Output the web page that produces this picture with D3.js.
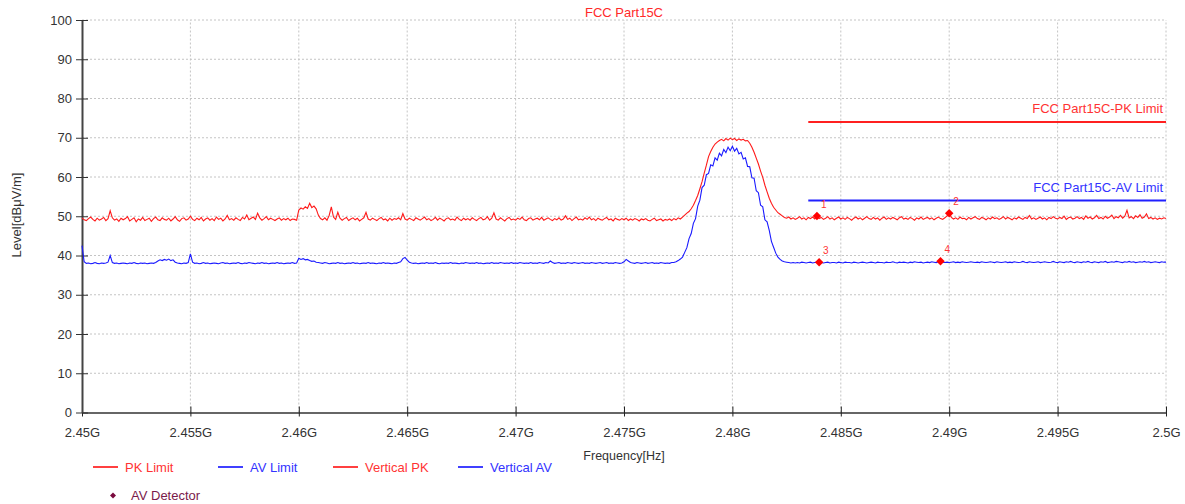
<!DOCTYPE html>
<html>
<head>
<meta charset="utf-8">
<script src="https://cdn.jsdelivr.net/npm/d3@7"></script>
<style>
  body { margin: 0; background: #fff; }
  svg text { font-family: "Liberation Sans", Arial, sans-serif; }
</style>
</head>
<body>
<div class="chart"></div>
<script>
var width = 1185,
    height = 504;

// sweep: 2.45 GHz .. 2.5 GHz, 501 points
const sweepStart = 2.45, sweepStep = 0.0001;

// Vertical PK trace (dBuV/m)
const verticalPK = [
  49.6, 49.1, 48.9, 49.4, 49.8, 49.2, 48.8, 49.5, 49.0, 49.3,
  49.7, 48.9, 49.4, 51.4, 49.6, 49.0, 49.3, 48.7, 49.5, 49.1,
  49.4, 49.9, 48.8, 49.2, 49.6, 48.6, 49.3, 49.0, 49.7, 48.9,
  49.2, 49.5, 48.7, 49.4, 49.8, 49.1, 48.9, 49.6, 49.2, 49.0,
  49.5, 48.8, 49.3, 49.9, 49.1, 48.7, 49.4, 49.6, 49.0, 49.3,
  50.0, 49.2, 48.9, 49.5, 49.1, 49.7, 48.8, 49.3, 49.6, 49.0,
  49.4, 48.9, 49.8, 49.2, 49.5, 48.8, 49.3, 50.2, 49.1, 49.4,
  49.0, 49.6, 49.2, 48.9, 49.7, 49.3, 50.3, 49.1, 49.5, 49.8,
  49.2, 50.8, 49.6, 49.0, 49.4, 49.9, 49.1, 49.5, 49.2, 48.9,
  49.3, 49.6, 49.0, 49.4, 49.1, 49.5, 48.9, 49.3, 49.2, 49.0,
  51.6, 52.1, 51.8, 52.4, 52.0, 53.3, 52.2, 52.6, 51.9, 50.3,
  49.4, 49.1, 49.6, 49.0, 50.2, 52.4, 49.8, 49.2, 51.0, 49.5,
  49.0, 49.4, 49.7, 48.9, 49.3, 49.6, 49.1, 49.5, 48.8, 49.2,
  49.6, 51.0, 49.3, 49.0, 49.5, 49.2, 48.9, 49.4, 49.7, 49.1,
  49.3, 48.8, 49.5, 49.0, 49.4, 49.2, 49.6, 49.1, 50.7, 49.3,
  49.0, 49.5, 49.2, 48.9, 49.6, 49.3, 49.0, 49.4, 49.8, 49.1,
  49.4, 48.9, 49.2, 49.7, 49.0, 49.5, 49.2, 48.8, 49.4, 49.6,
  49.1, 49.3, 49.0, 49.8, 49.2, 48.9, 49.5, 49.1, 49.4, 49.0,
  49.6, 49.2, 48.9, 49.4, 49.7, 49.1, 49.3, 49.9, 49.0, 49.5,
  50.9, 49.3, 49.0, 49.6, 49.2, 48.8, 49.4, 49.7, 49.1, 49.3,
  49.0, 49.5, 49.2, 49.8, 49.1, 48.9, 49.4, 49.6, 49.0, 49.3,
  49.5, 49.1, 49.7, 49.0, 49.3, 49.6, 49.2, 48.9, 49.4, 49.1,
  49.6, 49.0, 49.3, 50.1, 49.2, 49.5, 48.9, 49.4, 49.8, 49.1,
  49.3, 49.0, 49.6, 49.2, 49.8, 49.1, 49.4, 48.9, 49.5, 49.2,
  49.0, 49.4, 49.7, 49.1, 49.3, 48.8, 49.5, 49.2, 49.0, 49.4,
  49.1, 49.5, 48.9, 49.3, 49.0, 49.4, 49.2, 48.8, 49.3, 49.1,
  49.4, 49.0, 48.8, 49.2, 49.5, 48.9, 49.1, 49.3, 48.8, 49.2,
  49.0, 49.3, 48.9, 49.4, 49.1, 49.6, 49.3, 49.8, 50.3, 50.8,
  51.2, 51.9, 52.8, 54.0, 55.3, 57.0, 58.8, 61.0, 63.0, 65.2,
  66.5, 67.6, 68.4, 68.9, 69.3, 69.6, 69.2, 69.8, 69.4, 69.9,
  69.5, 69.8, 69.3, 69.7, 69.4, 69.6, 69.2, 69.3, 68.6, 67.6,
  66.3, 64.8, 63.3, 61.5, 59.9, 57.9, 56.2, 54.6, 53.3, 52.3,
  51.6, 50.9, 50.5, 50.1, 49.7, 49.5, 49.8, 49.3, 49.6, 49.2,
  49.5, 49.9, 49.3, 49.6, 49.1, 49.7, 49.4, 49.8, 49.3, 50.1,
  49.4, 49.7, 49.2, 49.5, 49.9, 49.3, 49.6, 49.1, 49.5, 49.8,
  49.3, 49.6, 49.2, 49.7, 49.4, 49.0, 49.5, 49.8, 49.3, 49.6,
  49.1, 49.5, 49.9, 49.4, 49.2, 49.7, 49.3, 49.6, 49.0, 49.5,
  49.8, 49.2, 49.6, 49.3, 49.7, 49.4, 49.1, 49.6, 49.9, 49.3,
  49.5, 49.2, 49.7, 49.4, 49.0, 49.6, 49.3, 49.8, 49.2, 49.5,
  49.7, 49.3, 49.6, 49.1, 49.5, 49.8, 49.4, 49.2, 49.6, 50.1,
  50.8, 49.7, 49.3, 49.6, 49.2, 49.8, 49.4, 49.5, 49.1, 49.7,
  49.3, 49.6, 49.9, 49.4, 49.2, 49.7, 49.5, 49.1, 49.6, 49.3,
  49.8, 49.4, 49.6, 49.2, 49.5, 49.9, 49.3, 49.7, 49.4, 49.1,
  49.6, 49.3, 49.8, 49.5, 49.2, 49.7, 49.4, 50.2, 49.3, 49.6,
  49.2, 49.5, 49.8, 49.3, 49.6, 49.1, 49.7, 49.4, 49.9, 49.5,
  49.3, 49.7, 49.4, 50.0, 49.2, 49.6, 49.8, 49.3, 49.5, 49.9,
  49.4, 49.7, 49.2, 50.1, 49.5, 49.8, 49.3, 49.6, 50.2, 49.4,
  49.7, 49.3, 50.0, 49.5, 49.8, 50.3, 49.4, 49.9, 49.6, 50.2,
  49.5, 50.0, 51.5, 49.6, 49.9, 49.4, 50.1, 49.7, 50.4, 49.5,
  49.8, 50.6, 49.4, 49.7, 49.3, 49.6, 49.2, 49.5, 49.3, 49.6,
  49.4
];

// Vertical AV trace (dBuV/m)
const verticalAV = [
  42.5, 38.4, 38.0, 38.1, 37.9, 38.0, 38.2, 38.0, 37.9, 38.1,
  38.0, 38.1, 38.3, 40.0, 38.2, 38.0, 38.1, 37.9, 38.0, 38.1,
  38.0, 37.9, 38.1, 38.0, 38.2, 38.0, 37.9, 38.1, 38.0, 38.1,
  37.9, 38.0, 38.1, 38.0, 38.2, 38.6, 38.9, 38.7, 39.0, 38.8,
  39.1, 38.7, 38.9, 38.3, 38.1, 38.0, 37.9, 38.1, 38.0, 38.2,
  40.4, 38.3, 38.0, 38.1, 37.9, 38.0, 38.2, 38.0, 38.1, 37.9,
  38.0, 38.1, 38.0, 37.9, 38.1, 38.2, 38.0, 38.1, 37.9, 38.0,
  38.1, 38.0, 38.2, 38.0, 37.9, 38.1, 38.0, 38.2, 38.1, 38.0,
  37.9, 38.1, 38.0, 38.2, 38.0, 38.1, 37.9, 38.0, 38.1, 38.0,
  38.2, 38.0, 38.1, 37.9, 38.0, 38.1, 38.0, 38.2, 38.0, 38.1,
  39.3, 39.0, 39.2, 38.9, 39.0, 38.7, 38.5, 38.6, 38.3, 38.2,
  38.1, 38.0, 38.2, 38.1, 37.9, 38.0, 38.1, 38.0, 38.2, 38.0,
  38.1, 37.9, 38.0, 38.1, 38.0, 38.2, 38.0, 38.1, 37.9, 38.0,
  38.1, 38.0, 38.2, 38.0, 38.1, 38.0, 37.9, 38.1, 38.0, 38.2,
  38.0, 38.1, 38.0, 37.9, 38.1, 38.0, 38.2, 38.4, 39.2, 39.5,
  38.8, 38.3, 38.1, 38.0, 38.1, 37.9, 38.0, 38.1, 38.0, 38.2,
  38.0, 38.1, 38.0, 38.2, 38.0, 37.9, 38.1, 38.0, 38.1, 38.0,
  38.2, 38.0, 38.1, 38.0, 37.9, 38.1, 38.0, 38.2, 38.1, 38.0,
  38.1, 38.0, 38.2, 38.0, 38.1, 37.9, 38.0, 38.1, 38.0, 38.2,
  38.0, 38.1, 38.0, 38.2, 38.1, 38.0, 38.1, 38.0, 38.2, 38.0,
  38.1, 38.0, 38.2, 38.1, 38.0, 38.1, 38.0, 38.2, 38.0, 38.1,
  38.0, 38.2, 38.1, 38.0, 38.2, 38.1, 38.6, 38.2, 38.0, 38.1,
  38.2, 38.0, 38.1, 38.0, 38.2, 38.1, 38.0, 38.2, 38.1, 38.0,
  38.1, 38.2, 38.0, 38.1, 38.0, 38.2, 38.1, 38.0, 38.1, 38.2,
  38.0, 38.1, 38.2, 38.0, 38.1, 38.0, 38.2, 38.1, 38.0, 38.1,
  38.4, 39.0, 38.6, 38.2, 38.1, 38.0, 38.2, 38.1, 38.0, 38.1,
  38.2, 38.0, 38.1, 38.2, 38.0, 38.1, 38.0, 38.2, 38.1, 38.0,
  38.1, 38.0, 38.2, 38.2, 38.4, 38.7, 39.1, 39.6, 40.8, 42.0,
  44.3, 45.6, 48.2, 49.4, 52.6, 54.1, 57.3, 57.9, 60.6, 60.9,
  63.1, 62.8, 64.9, 64.3, 66.1, 65.4, 67.0, 66.2, 67.6, 66.7,
  67.8, 66.6, 67.3, 65.9, 66.3, 64.6, 64.9, 62.7, 62.6, 59.8,
  59.7, 56.5, 56.0, 52.8, 52.4, 49.1, 48.6, 46.4, 43.6, 42.1,
  40.6, 39.6, 39.0, 38.6, 38.4, 38.3, 38.2, 38.1, 38.2, 38.1,
  38.2, 38.1, 38.3, 38.2, 38.1, 38.2, 38.3, 38.1, 38.2, 38.3,
  38.3, 38.2, 38.1, 38.2, 38.3, 38.1, 38.2, 38.2, 38.1, 38.3,
  38.2, 38.1, 38.3, 38.2, 38.2, 38.1, 38.3, 38.2, 38.1, 38.2,
  38.3, 38.2, 38.1, 38.2, 38.3, 38.2, 38.1, 38.3, 38.2, 38.2,
  38.1, 38.3, 38.2, 38.2, 38.4, 38.2, 38.1, 38.3, 38.2, 38.3,
  38.2, 38.1, 38.3, 38.2, 38.4, 38.3, 38.2, 38.3, 38.1, 38.2,
  38.3, 38.2, 38.4, 38.3, 38.2, 38.4, 38.5, 38.3, 38.2, 38.3,
  38.2, 38.3, 38.4, 38.2, 38.3, 38.2, 38.4, 38.3, 38.2, 38.3,
  38.4, 38.3, 38.2, 38.3, 38.2, 38.4, 38.3, 38.2, 38.3, 38.4,
  38.3, 38.2, 38.4, 38.3, 38.2, 38.3, 38.4, 38.2, 38.3, 38.2,
  38.4, 38.3, 38.2, 38.3, 38.5, 38.3, 38.2, 38.4, 38.3, 38.2,
  38.3, 38.4, 38.2, 38.3, 38.4, 38.3, 38.2, 38.3, 38.5, 38.3,
  38.2, 38.4, 38.3, 38.2, 38.4, 38.3, 38.5, 38.3, 38.2, 38.4,
  38.3, 38.2, 38.4, 38.3, 38.5, 38.3, 38.2, 38.4, 38.3, 38.2,
  38.4, 38.3, 38.5, 38.2, 38.3, 38.4, 38.3, 38.5, 38.4, 38.3,
  38.2, 38.4, 38.3, 38.5, 38.3, 38.4, 38.2, 38.3, 38.4, 38.3,
  38.5, 38.3, 38.4, 38.2, 38.3, 38.4, 38.3, 38.2, 38.4, 38.3,
  38.3
];

// limit lines
const limitFreq = [2.4835, 2.5];
const pkLimit = [74, 74];
const avLimit = [54, 54];

// markers (AV detector)
const markerNo = [1, 2, 3, 4];
const markerFreq = [2.4839, 2.4900, 2.4840, 2.4896];
const markerLevel = [50.06, 50.75, 38.27, 38.52];

// axis ticks
const xTicks = [2.45, 2.455, 2.46, 2.465, 2.47, 2.475, 2.48, 2.485, 2.49, 2.495, 2.5];
const xTickLabels = ["2.45G", "2.455G", "2.46G", "2.465G", "2.47G", "2.475G", "2.48G", "2.485G", "2.49G", "2.495G", "2.5G"];
const yTicks = [0, 10, 20, 30, 40, 50, 60, 70, 80, 90, 100];

const legendNames = ["PK Limit", "AV Limit", "Vertical PK", "Vertical AV"];
const legendColors = ["#ff0000", "#0000ff", "#ff0000", "#0000ff"];
const legendX = [93, 218, 333, 458];

let svg = d3.select(".chart")
    .append("svg")
    .attr("width", width)
    .attr("height", height);

let x = d3.scaleLinear().domain([2.45, 2.5]).range([82, 1166]);
let y = d3.scaleLinear().domain([0, 100]).range([412.5, 20]);

// grid
svg.append("g")
    .selectAll("line")
    .data(yTicks.slice(1))
    .join("line")
    .attr("x1", x(2.45)).attr("x2", x(2.5))
    .attr("y1", d => y(d)).attr("y2", d => y(d))
    .attr("stroke", "#c4c4c4")
    .attr("stroke-dasharray", "2,2");

svg.append("g")
    .selectAll("line")
    .data(xTicks.slice(1))
    .join("line")
    .attr("x1", d => x(d)).attr("x2", d => x(d))
    .attr("y1", y(0)).attr("y2", y(100))
    .attr("stroke", "#c4c4c4")
    .attr("stroke-dasharray", "2,2");

// axes
let xAxis = svg.append("g")
    .attr("transform", `translate(0, ${y(0)})`)
    .call(d3.axisBottom(x).tickValues(xTicks).tickFormat((d, i) => xTickLabels[i]).tickSizeOuter(0));
xAxis.select(".domain").attr("stroke", "#666").attr("stroke-width", 2);
xAxis.selectAll(".tick line").attr("y1", -6).attr("y2", 4).attr("stroke", "#222");
xAxis.selectAll(".tick text")
    .attr("y", 15)
    .attr("dy", "0.71em")
    .attr("fill", "#333")
    .style("font-size", "13px");

let yAxis = svg.append("g")
    .attr("transform", `translate(${x(2.45)}, 0)`)
    .call(d3.axisLeft(y).tickValues(yTicks).tickSizeOuter(0));
yAxis.select(".domain").attr("stroke", "#444").attr("stroke-width", 2);
yAxis.selectAll(".tick line").attr("x1", -6).attr("x2", 6).attr("stroke", "#333");
yAxis.selectAll(".tick text")
    .attr("x", -10)
    .attr("fill", "#333")
    .style("font-size", "13px");

// traces
let line = d3.line()
    .x((d, i) => x(sweepStart + i * sweepStep))
    .y(d => y(d));

svg.append("path")
    .datum(verticalPK)
    .attr("d", line)
    .attr("fill", "none")
    .attr("stroke", "#ff1a1a")
    .attr("stroke-width", 1.1);

svg.append("path")
    .datum(verticalAV)
    .attr("d", line)
    .attr("fill", "none")
    .attr("stroke", "#1a1aff")
    .attr("stroke-width", 1.1);

// limit lines
let limLine = d3.line()
    .x((d, i) => x(limitFreq[i]))
    .y(d => y(d));

svg.append("path").datum(pkLimit).attr("d", limLine)
    .attr("stroke", "#ff2020").attr("stroke-width", 2).attr("fill", "none");
svg.append("path").datum(avLimit).attr("d", limLine)
    .attr("stroke", "#2020ff").attr("stroke-width", 2).attr("fill", "none");

svg.append("text")
    .attr("x", x(2.5) - 3).attr("y", y(pkLimit[0]) - 9)
    .attr("text-anchor", "end")
    .attr("fill", "#ff3333")
    .style("font-size", "13px")
    .text("FCC Part15C-PK Limit");

svg.append("text")
    .attr("x", x(2.5) - 3).attr("y", y(avLimit[0]) - 9)
    .attr("text-anchor", "end")
    .attr("fill", "#3333ff")
    .style("font-size", "13px")
    .text("FCC Part15C-AV Limit");

// markers
let diamond = d3.symbol(d3.symbolSquare, 36);
let marks = svg.append("g")
    .selectAll("g")
    .data(markerNo)
    .join("g")
    .attr("transform", (d, i) => `translate(${x(markerFreq[i])}, ${y(markerLevel[i])})`);

marks.append("path")
    .attr("d", diamond)
    .attr("transform", "rotate(45)")
    .attr("fill", "#ff0000");

marks.append("text")
    .attr("x", 4).attr("y", -8)
    .attr("fill", "#ff3333")
    .style("font-size", "10px")
    .text(d => d);

// title + axis titles
svg.append("text")
    .attr("x", (x(2.45) + x(2.5)) / 2).attr("y", 17)
    .attr("text-anchor", "middle")
    .attr("fill", "#ff2a2a")
    .style("font-size", "13px")
    .text("FCC Part15C");

svg.append("text")
    .attr("transform", "translate(21, 215) rotate(-90)")
    .attr("text-anchor", "middle")
    .attr("fill", "#333")
    .style("font-size", "13px")
    .text("Level[dBμV/m]");

svg.append("text")
    .attr("x", 624).attr("y", 460)
    .attr("text-anchor", "middle")
    .attr("fill", "#333")
    .style("font-size", "12.5px")
    .text("Frequency[Hz]");

// legend
let legend = svg.append("g")
    .selectAll("g")
    .data(legendNames)
    .join("g")
    .attr("transform", (d, i) => `translate(${legendX[i]}, 467)`);

legend.append("line")
    .attr("x1", 0).attr("x2", 25)
    .attr("stroke", (d, i) => legendColors[i])
    .attr("stroke-width", 1.5);

legend.append("text")
    .attr("x", 32).attr("y", 4.5)
    .attr("fill", (d, i) => legendColors[i] == "#ff0000" ? "#ff3333" : "#3333ff")
    .style("font-size", "13px")
    .text(d => d);

svg.append("path")
    .attr("d", d3.symbol(d3.symbolSquare, 18))
    .attr("transform", "translate(113, 495.5) rotate(45)")
    .attr("fill", "#7a0a3e");

svg.append("text")
    .attr("x", 131).attr("y", 500)
    .attr("fill", "#7a1a4a")
    .style("font-size", "13px")
    .text("AV Detector");
</script>
</body>
</html>
